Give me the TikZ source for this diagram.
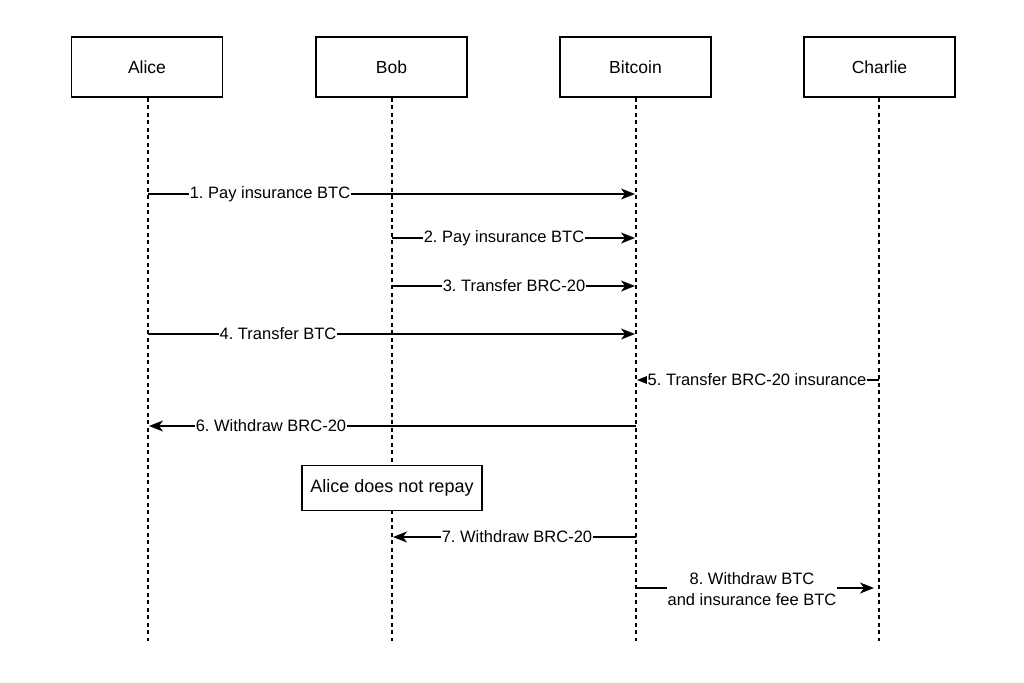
\documentclass[tikz,border=0pt]{standalone}
\usepackage{fontspec}
\setmainfont{Liberation Sans}
\usetikzlibrary{arrows.meta}
\frenchspacing
\begin{document}
\begin{tikzpicture}[x=1pt,y=-1pt,
  actor/.style={draw, line width=1.6pt, minimum width=151pt, minimum height=60pt, inner sep=0pt, font=\fontsize{17.5}{20}\selectfont},
  life/.style={line width=1.2pt, dash pattern=on 4pt off 3.5pt},
  msg/.style={line width=1.4pt, -{Stealth[length=14pt,width=11pt,inset=4pt]}},
  lbl/.style={fill=white, inner sep=1pt, font=\fontsize{16.5}{19}\selectfont},
  notebox/.style={draw, line width=1.4pt, fill=white, minimum width=180pt, minimum height=45pt, inner sep=0pt, font=\fontsize{18}{20}\selectfont}]
\useasboundingbox (0,0) rectangle (1024,682);
% actors
\node[actor] (alice) at (147,67) {Alice};
\node[actor] (bob) at (391.5,67) {Bob};
\node[actor] (btc) at (635.5,67) {Bitcoin};
\node[actor] (charlie) at (879.5,67) {Charlie};
% lifeline ends
\coordinate (aend) at (148,641);
\coordinate (bend) at (392,641);
\coordinate (cend) at (636,641);
\coordinate (dend) at (879,641);
\draw[life] (alice.south -| aend) -- (aend);
\draw[life] (bob.south -| bend) -- (bend);
\draw[life] (btc.south -| cend) -- (cend);
\draw[life] (charlie.south -| dend) -- (dend);
% message points
\coordinate (a1) at (148,194); \coordinate (c1) at (635,194);
\coordinate (b2) at (392,238); \coordinate (c2) at (635,238);
\coordinate (b3) at (392,286); \coordinate (c3) at (635,286);
\coordinate (a4) at (148,334); \coordinate (c4) at (635,334);
\coordinate (d5) at (879,380); \coordinate (c5) at (637,380);
\coordinate (c6) at (636,426); \coordinate (a6) at (149,426);
\coordinate (c7) at (636,537); \coordinate (b7) at (393,537);
\coordinate (c8) at (636,588); \coordinate (d8) at (874,588);
% messages
\draw[msg] (a1) -- (c1);
\node[lbl] (l1) at (270,194) {1. Pay insurance BTC};
\draw[msg] (b2) -- (c2);
\node[lbl] (l2) at (504,238) {2. Pay insurance BTC};
\draw[msg] (b3) -- (c3);
\node[lbl] (l3) at (514,286) {3. Transfer BRC-20};
\draw[msg] (a4) -- (c4);
\node[lbl] (l4) at (278,334) {4. Transfer BTC};
\draw[msg] (d5) -- (c5);
\node[lbl] (l5) at (757,380) {5. Transfer BRC-20 insurance};
\draw[msg] (c6) -- (a6);
\node[lbl] (l6) at (271,426) {6. Withdraw BRC-20};
\node[notebox] (note) at (392,488) {Alice does not repay};
\draw[msg] (c7) -- (b7);
\node[lbl] (l7) at (517,537) {7. Withdraw BRC-20};
\draw[msg] (c8) -- (d8);
\node[lbl, align=center, font=\fontsize{16.5}{21}\selectfont] (l8) at (752,589) {8. Withdraw BTC\\and insurance fee BTC};
\end{tikzpicture}
\end{document}
